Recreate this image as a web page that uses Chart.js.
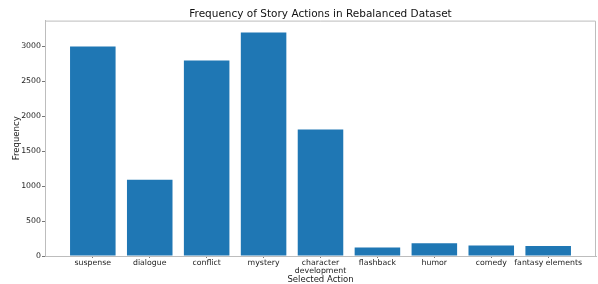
<!DOCTYPE html>
<html>
<head>
<meta charset="utf-8">
<script src="https://cdn.jsdelivr.net/npm/chart.js@4"></script>
<style>
  body { margin: 0; background: #fff; }
</style>
</head>
<body>
<canvas id="myChart_actions" width="598" height="284"></canvas>
<script>
const categories = ["suspense", "dialogue", "conflict", "mystery", "character development",
    "flashback", "humor", "comedy", "fantasy elements"];
const xTickLabels = ["suspense", "dialogue", "conflict", "mystery", ["character", "development"],
    "flashback", "humor", "comedy", "fantasy elements"];
const frequencies = [3000, 1090, 2800, 3200, 1810, 120, 182, 152, 143];
const yTicks = [0, 500, 1000, 1500, 2000, 2500, 3000];

const spineColor = '#bdbdbd';
const textColor = '#222';
const font = 'DejaVu Sans';

// top + right spines, like matplotlib's box
const boxPlugin = {
    id: 'box',
    afterDraw(chart) {
        const { ctx, chartArea: a } = chart;
        ctx.save();
        ctx.strokeStyle = spineColor;
        ctx.lineWidth = 1;
        ctx.beginPath();
        ctx.moveTo(a.left, a.top + 0.5);
        ctx.lineTo(a.right - 0.5, a.top + 0.5);
        ctx.lineTo(a.right - 0.5, a.bottom);
        ctx.stroke();
        ctx.restore();
    }
};

new Chart("myChart_actions", {
    type: "bar",
    data: {
        datasets: [{
            data: frequencies.map((v, i) => ({ x: i, y: v })),
            backgroundColor: "#1f77b4",
            categoryPercentage: 0.8,
            barPercentage: 1.0
        }]
    },
    plugins: [boxPlugin],
    options: {
        responsive: false,
        animation: false,
        layout: { padding: { left: 0, right: 2, top: 0, bottom: 0 } },
        plugins: {
            legend: { display: false },
            tooltip: { enabled: false },
            title: {
                display: true,
                text: "Frequency of Story Actions in Rebalanced Dataset",
                color: '#111',
                fullSize: false,
                font: { family: font, size: 10.5, weight: 'normal' },
                padding: { top: 8, bottom: 0 }
            }
        },
        scales: {
            x: {
                type: 'linear',
                min: -0.84,
                max: categories.length - 1 + 0.84,
                offset: false,
                afterBuildTicks: axis => { axis.ticks = categories.map((_, i) => ({ value: i })); },
                afterFit: axis => { axis.height = 28; },
                grid: { offset: false, drawOnChartArea: false, drawTicks: true, tickLength: 2, color: '#777' },
                border: { color: spineColor },
                ticks: {
                    autoSkip: false,
                    maxRotation: 0,
                    padding: 0,
                    color: textColor,
                    font: { family: font, size: 7.8, lineHeight: 1.15 },
                    callback: value => xTickLabels[value]
                },
                title: {
                    display: true,
                    text: "Selected Action",
                    color: textColor,
                    font: { family: font, size: 8.5, lineHeight: 1.1 },
                    padding: { top: 0, bottom: 0 }
                }
            },
            y: {
                min: 0,
                max: 3370,
                afterBuildTicks: axis => { axis.ticks = yTicks.map(v => ({ value: v })); },
                afterFit: axis => { axis.width = 45; },
                grid: { drawOnChartArea: false, drawTicks: true, tickLength: 3, color: '#777' },
                border: { color: spineColor },
                ticks: {
                    padding: 1,
                    color: textColor,
                    font: { family: font, size: 7.8 },
                    callback: value => String(value)
                },
                title: {
                    display: true,
                    text: "Frequency",
                    color: textColor,
                    font: { family: font, size: 8.5 },
                    padding: { top: 12, bottom: 0 }
                }
            }
        }
    }
});
</script>
</body>
</html>
